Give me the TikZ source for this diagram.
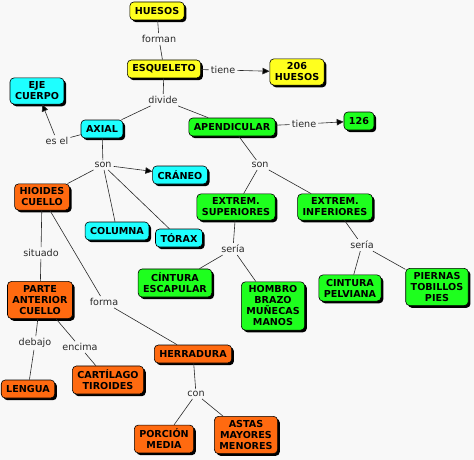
\documentclass[tikz,border=0pt]{standalone}
\usepackage{fontspec}
\setmainfont{DejaVu Sans}
\usetikzlibrary{shapes, arrows.meta, positioning, shadows}
\definecolor{mapyellow}{HTML}{FFFF1E}
\definecolor{mapcyan}{HTML}{1EFFFF}
\definecolor{mapgreen}{HTML}{1EFF1E}
\definecolor{maporange}{HTML}{FF6A10}
\definecolor{mapline}{HTML}{2A2A2A}
\definecolor{mapback}{HTML}{F8F8F8}

\begin{document}
\begin{tikzpicture}[
      x=1pt, y=-1pt,
      concept/.style={rectangle, rounded corners=4pt, draw=black, line width=0.6pt, align=center,
        font=\fontsize{9.6}{11}\selectfont\bfseries, inner xsep=5pt, inner ysep=4pt, minimum height=18pt,
        drop shadow={shadow xshift=2.2pt, shadow yshift=-2.2pt, fill=black, opacity=1}},
      yel/.style={concept, fill=mapyellow},
      cya/.style={concept, fill=mapcyan},
      gre/.style={concept, fill=mapgreen},
      ora/.style={concept, fill=maporange},
      lbl/.style={font=\fontsize{9.6}{11}\selectfont, text=mapline, inner sep=2pt},
      link/.style={draw=mapline, line width=0.6pt},
      linkto/.style={link, -{Triangle[length=7pt, width=6.5pt, fill=black]}}
    ]
      \path[use as bounding box, fill=mapback] (0,0) rectangle (474,460);

      % conceptos
      \node[yel] (huesos) at (157,11) {HUESOS};
      \node[yel] (esq) at (164,69) {ESQUELETO};
      \node[yel] (h206) at (297,72) {206\\HUESOS};
      \node[cya] (eje) at (37,91) {EJE\\CUERPO};
      \node[cya] (axial) at (102,129) {AXIAL};
      \node[gre] (apend) at (232,127) {APENDICULAR};
      \node[gre] (n126) at (359,121) {126};
      \node[cya] (craneo) at (180,175) {CRÁNEO};
      \node[ora] (hioides) at (42,197) {HIOIDES\\CUELLO};
      \node[cya] (columna) at (117,231) {COLUMNA};
      \node[cya] (torax) at (179,238) {TÓRAX};
      \node[gre] (sup) at (236,207) {EXTREM.\\SUPERIORES};
      \node[gre] (inf) at (335,207) {EXTREM.\\INFERIORES};
      \node[gre] (escap) at (175,283) {CÍNTURA\\ESCAPULAR};
      \node[gre] (hombro) at (273,306) {HOMBRO\\BRAZO\\MUÑECAS\\MANOS};
      \node[gre] (pelv) at (350,288) {CINTURA\\PELVIANA};
      \node[gre] (piernas) at (437,287) {PIERNAS\\TOBILLOS\\PIES};
      \node[ora] (parte) at (40,300) {PARTE\\ANTERIOR\\CUELLO};
      \node[ora] (lengua) at (28,389) {LENGUA};
      \node[ora] (cartil) at (108,380) {CARTÍLAGO\\TIROIDES};
      \node[ora] (herr) at (193,354) {HERRADURA};
      \node[ora] (porcion) at (164,439) {PORCIÓN\\MEDIA};
      \node[ora] (astas) at (246,435) {ASTAS\\MAYORES\\MENORES};

      % palabras de enlace
      \node[lbl] (forman) at (159,39) {forman};
      \node[lbl] (tiene1) at (223,70) {tiene};
      \node[lbl] (divide) at (163,100) {divide};
      \node[lbl] (esel) at (57,141) {es el};
      \node[lbl] (tiene2) at (304,124) {tiene};
      \node[lbl] (son1) at (103,165) {son};
      \node[lbl] (son2) at (260,165) {son};
      \node[lbl] (seria1) at (233,249) {sería};
      \node[lbl] (seria2) at (362,245) {sería};
      \node[lbl] (situado) at (41,253) {situado};
      \node[lbl] (forma) at (104,302) {forma};
      \node[lbl] (debajo) at (35,343) {debajo};
      \node[lbl] (encima) at (80,347) {encima};
      \node[lbl] (con) at (196,394) {con};

      \draw[link] (huesos) -- (forman) -- (esq);
      \draw[link] (esq) -- (tiene1);
      \draw[linkto] (tiene1) -- (h206);
      \draw[link] (esq) -- (divide);
      \draw[link] (divide) -- (axial);
      \draw[link] (divide) -- (apend);
      \draw[link] (axial) -- (esel);
      \draw[linkto] (esel) -- (eje);
      \draw[link] (apend) -- (tiene2);
      \draw[linkto] (tiene2) -- (n126);
      \draw[link] (axial) -- (son1);
      \draw[linkto] (son1) -- (craneo);
      \foreach \n in {hioides, columna, torax} {
        \draw[link] (son1) -- (\n);
      }
      \draw[link] (apend) -- (son2);
      \draw[link] (son2) -- (sup);
      \draw[link] (son2) -- (inf);
      \draw[link] (sup) -- (seria1);
      \draw[link] (seria1) -- (escap);
      \draw[link] (seria1) -- (hombro);
      \draw[link] (inf) -- (seria2);
      \draw[link] (seria2) -- (pelv);
      \draw[link] (seria2) -- (piernas);
      \draw[link] (hioides) -- (situado) -- (parte);
      \draw[link] (hioides) -- (forma) -- (herr);
      \draw[link] (parte) -- (debajo) -- (lengua);
      \draw[link] (parte) -- (encima) -- (cartil);
      \draw[link] (herr) -- (con);
      \draw[link] (con) -- (porcion);
      \draw[link] (con) -- (astas);
    \end{tikzpicture}
\end{document}
